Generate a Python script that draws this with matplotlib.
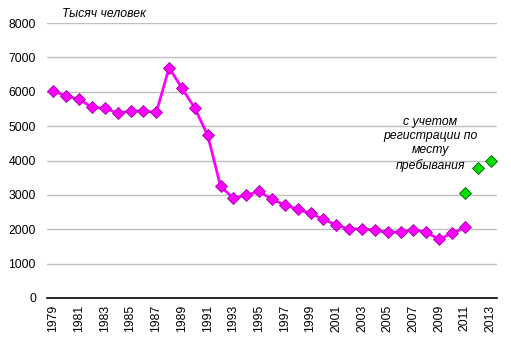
import matplotlib
matplotlib.use("Agg")
import matplotlib.pyplot as plt

plt.rcParams['font.family'] = ['Liberation Sans', 'DejaVu Sans']

years = list(range(1979, 2014))
main_years = list(range(1979, 2012))
main_values = [6020, 5870, 5780, 5550, 5520, 5380, 5440, 5440, 5400, 6700,
               6100, 5520, 4730, 3250, 2900, 2990, 3100, 2870, 2705, 2580,
               2460, 2290, 2125, 2000, 2020, 1970, 1910, 1920, 1990, 1910,
               1710, 1880, 2055]
reg_years = [2011, 2012, 2013]
reg_values = [3045, 3770, 3995]

fig = plt.figure(figsize=(5.11, 3.48), dpi=100)
ax = fig.add_axes([47 / 511, 1 - 298 / 348, 450 / 511, 275 / 348])

idx = {y: i for i, y in enumerate(years)}
ax.plot([idx[y] for y in main_years], main_values, color='#ff00ff', lw=2,
        marker='D', ms=6.3, mfc='#ff00ff', mec='#a000a0', mew=0.6, zorder=3)
ax.plot([idx[y] for y in reg_years], reg_values, ls='none',
        marker='D', ms=5.8, mfc='#00dd00', mec='#006000', mew=0.6, zorder=3)

ax.set_xlim(-0.5, len(years) - 0.5)
ax.set_ylim(0, 8000)
ax.set_yticks(range(0, 8001, 1000))
ax.set_xticks([idx[y] for y in years[::2]])
ax.set_xticklabels([str(y) for y in years[::2]], rotation=90, fontsize=8.8)
ax.tick_params(axis='y', labelsize=8.8, length=0, pad=8)
ax.tick_params(axis='x', length=0, pad=5)
ax.grid(axis='y', color='#c0c0c0', lw=1)
ax.set_axisbelow(True)
for s in ['left', 'right', 'top']:
    ax.spines[s].set_visible(False)
ax.spines['bottom'].set_color('black')
ax.spines['bottom'].set_linewidth(1.2)

fig.text(62 / 511, 1 - 14 / 348, 'Тысяч человек', fontsize=8.8, style='italic',
         va='center', ha='left')
ax.text(29.3, 4480, 'с учетом\nрегистрации по\nместу\nпребывания',
        fontsize=8.8, style='italic', ha='center', va='center', linespacing=1.22)

fig.savefig('out.png', dpi=100, facecolor='white')
